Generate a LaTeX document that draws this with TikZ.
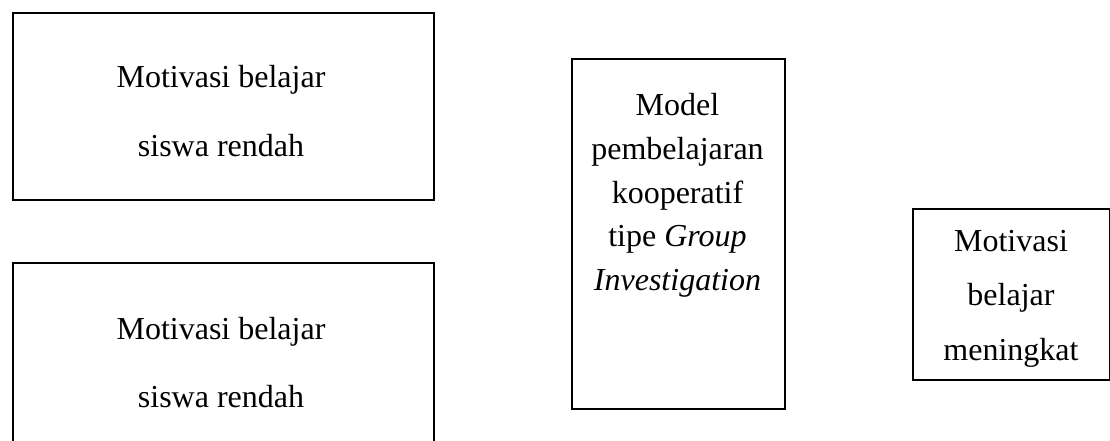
\documentclass[tikz,border=0pt]{standalone}
\usepackage{fontspec}
\setmainfont{Liberation Serif}
\begin{document}
\begin{tikzpicture}[x=1pt,y=-1pt,
  frame/.style={draw=black,line width=2.2pt,rectangle,inner sep=0pt,anchor=north west},
  txt/.style={anchor=base,inner sep=0pt,font=\fontsize{32}{38}\selectfont}]
\useasboundingbox (0,0) rectangle (1110,441);
% boxes
\node[frame,minimum width=421pt,minimum height=187pt] (b1) at (12,12) {};
\node[frame,minimum width=421pt,minimum height=240pt] (b2) at (12,262) {};
\node[frame,minimum width=213pt,minimum height=350pt] (b3) at (571,58) {};
\node[frame,minimum width=197pt,minimum height=171pt] (b4) at (912,208) {};
% texts
\node[txt] (t11) at (221,88) {Motivasi belajar};
\node[txt] (t12) at (221,157) {siswa rendah};
\node[txt] (t21) at (221,339) {Motivasi belajar};
\node[txt] (t22) at (221,407) {siswa rendah};
\node[txt] (t31) at (677.5,116) {Model};
\node[txt] (t32) at (677.5,159.5) {pembelajaran};
\node[txt] (t33) at (677.5,203) {kooperatif};
\node[txt] (t34) at (677.5,246.5) {tipe \textit{Group}};
\node[txt] (t35) at (677.5,290) {\textit{Investigation}};
\node[txt] (t41) at (1011,251) {Motivasi};
\node[txt] (t42) at (1011,305) {belajar};
\node[txt] (t43) at (1011,360) {meningkat};
\end{tikzpicture}
\end{document}
